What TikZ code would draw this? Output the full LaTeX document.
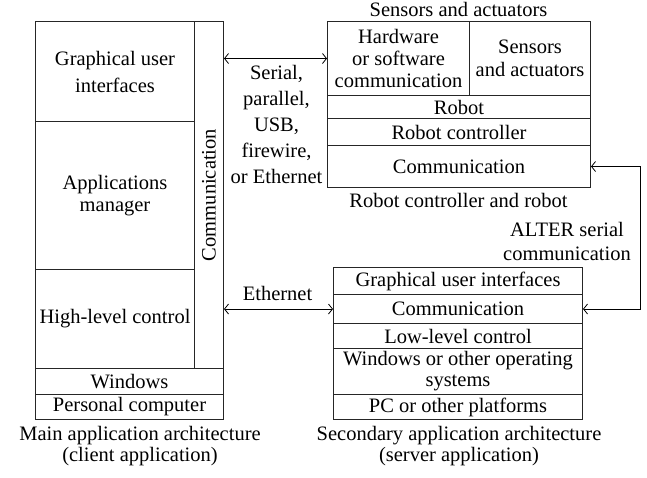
\documentclass[tikz,border=0pt]{standalone}
\usepackage{fontspec}
\setmainfont{Liberation Serif}
\usetikzlibrary{arrows.meta}
\begin{document}
\begin{tikzpicture}[x=1pt,y=-1pt,
  font=\fontsize{20.5}{25}\selectfont,
  cell/.style={draw=black!85,line width=1pt,inner sep=0pt,anchor=north west,align=center},
  label/.style={inner sep=0pt,align=center},
  link/.style={line width=0.8pt,{Straight Barb[length=4pt,width=10pt]}-{Straight Barb[length=4pt,width=10pt]}}]
\useasboundingbox (0,0) rectangle (647,477);

% client side stack
\node[cell,minimum width=159pt,minimum height=100pt,font=\fontsize{20.5}{27}\selectfont] (gui) at (35,21) {Graphical user\\interfaces};
\node[cell,minimum width=159pt,minimum height=148pt,font=\fontsize{20.5}{22}\selectfont] (appmgr) at (35,121) {Applications\\manager};
\node[cell,minimum width=159pt,minimum height=99pt] (hlc) at (35,269) {High-level control};
\node[cell,minimum width=29pt,minimum height=347pt] (comm) at (194,21) {};
\node[label,rotate=90] (commtext) at (comm.center) {Communication};
\node[cell,minimum width=188pt,minimum height=26pt] (win) at (35,368) {Windows};
\node[cell,minimum width=188pt,minimum height=25pt] (pc) at (35,394) {Personal computer};

% robot side stack
\node[cell,minimum width=142pt,minimum height=74pt,font=\fontsize{20.5}{22}\selectfont] (hw) at (327,21) {Hardware\\or software\\communication};
\node[cell,minimum width=121pt,minimum height=74pt,font=\fontsize{20.5}{23}\selectfont] (sens) at (469,21) {Sensors\\and actuators};
\node[cell,minimum width=263pt,minimum height=23pt] (robot) at (327,95) {Robot};
\node[cell,minimum width=263pt,minimum height=27pt] (rctrl) at (327,118) {Robot controller};
\node[cell,minimum width=263pt,minimum height=42pt] (rcomm) at (327,145) {Communication};

% server side stack
\node[cell,minimum width=249pt,minimum height=27pt] (sgui) at (333,267) {Graphical user interfaces};
\node[cell,minimum width=249pt,minimum height=29pt] (scomm) at (333,294) {Communication};
\node[cell,minimum width=249pt,minimum height=25pt] (llc) at (333,323) {Low-level control};
\node[cell,minimum width=249pt,minimum height=46pt,font=\fontsize{20.5}{21}\selectfont] (wos) at (333,348) {Windows or other operating\\systems};
\node[cell,minimum width=249pt,minimum height=25pt] (pco) at (333,394) {PC or other platforms};

% titles and captions
\node[label] (senstitle) at (458.5,9) {Sensors and actuators};
\node[label] (robottitle) at (458.5,200) {Robot controller and robot};
\node[label,font=\fontsize{20.5}{21}\selectfont] (maincap) at (140,446) {Main application architecture\\(client application)};
\node[label,font=\fontsize{20.5}{21}\selectfont] (seccap) at (459,446) {Secondary application architecture\\(server application)};

% links between the stacks
\draw[link] (hw.west -| comm.east) -- (hw.west);
\node[label,font=\fontsize{20.5}{26}\selectfont] (serlabel) at (276.5,124) {Serial,\\parallel,\\USB,\\firewire,\\or Ethernet};
\draw[link] (scomm.west -| comm.east) -- (scomm.west);
\node[label] (ethlabel) at (277.5,293) {Ethernet};
\draw[link] (rcomm.east) -- ++(49,0) |- (scomm.east);
\node[label,font=\fontsize{20.5}{24}\selectfont] (alterlabel) at (567,241) {ALTER serial\\communication};
\end{tikzpicture}
\end{document}
